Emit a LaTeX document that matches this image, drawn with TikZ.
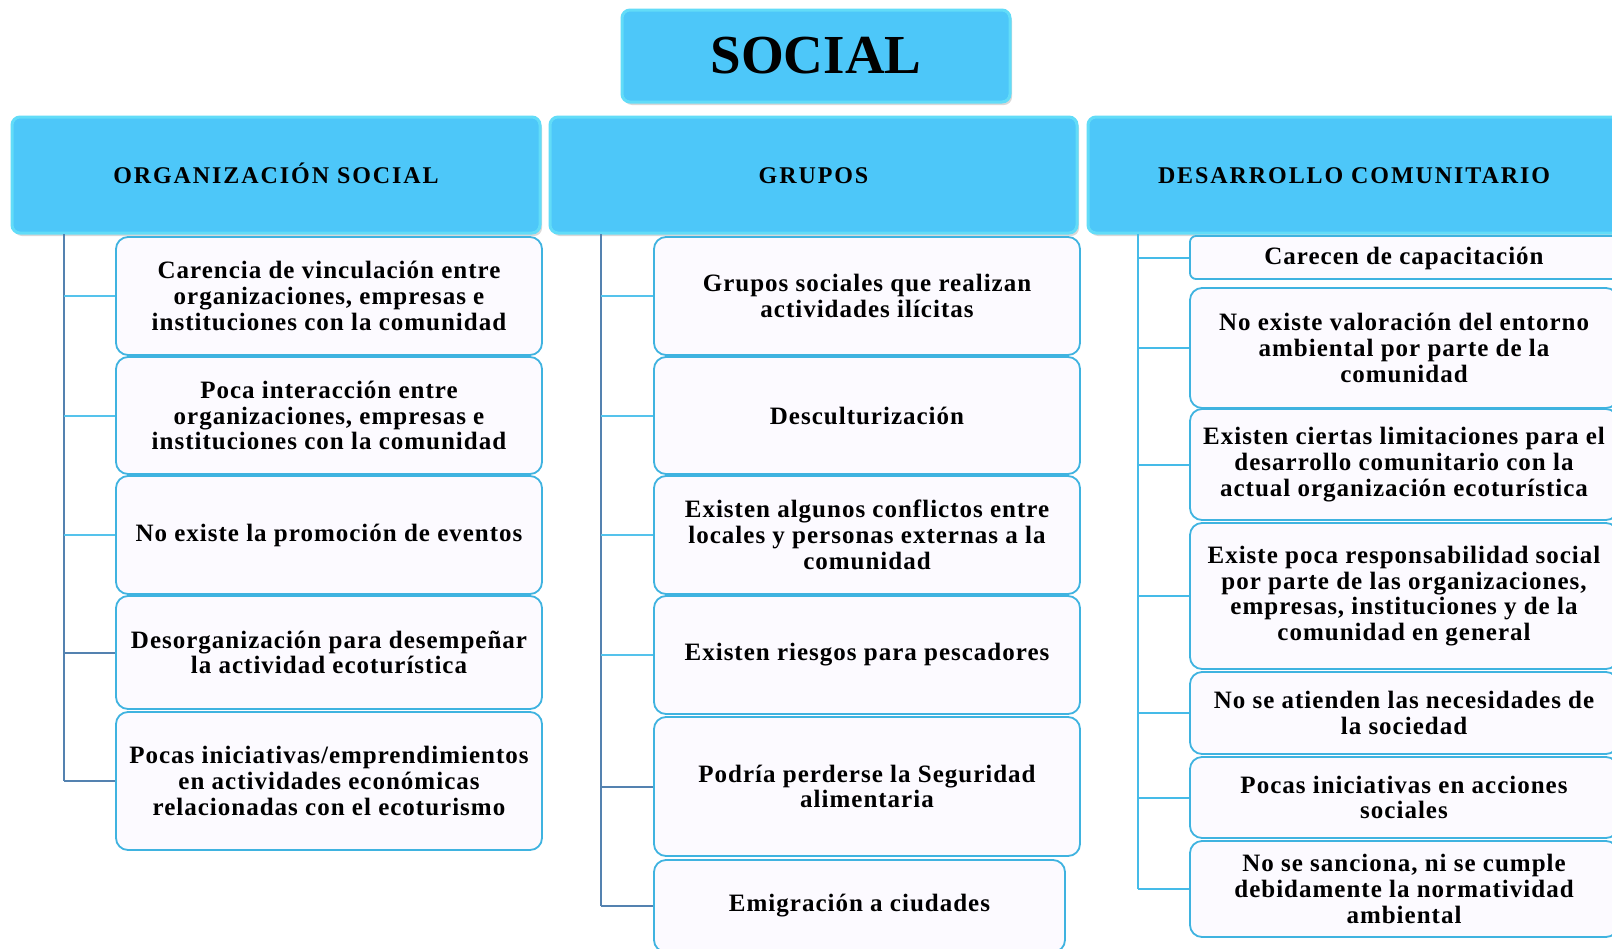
\documentclass[tikz,border=0pt]{standalone}
\usepackage{fontspec}
\setmainfont{Liberation Serif}
\newfontfamily\boxfont[LetterSpace=4]{Liberation Serif}
\newfontfamily\headfont[LetterSpace=8]{Liberation Serif}
\usetikzlibrary{shadows}
\definecolor{headfill}{HTML}{4DC7F9}
\definecolor{headedge}{HTML}{62DCF8}
\definecolor{boxfill}{HTML}{FCFAFF}
\definecolor{boxedge}{HTML}{3FB3E0}
\definecolor{trunkc}{HTML}{5482B0}
\definecolor{twigc}{HTML}{55C3EC}
\definecolor{cyanline}{HTML}{45BBE8}
\tikzset{
  head/.style={draw=headedge, line width=1.5pt, fill=headfill, rounded corners=4pt, inner sep=0pt,
    drop shadow={shadow xshift=1pt, shadow yshift=-1.5pt, opacity=0.3}},
  headtext/.style={font=\headfont\bfseries\fontsize{12}{14}\selectfont, text height=8.2pt, text depth=0pt},
  item/.style={draw=boxedge, line width=0.9pt, fill=boxfill, rounded corners=6pt, align=center,
    inner sep=0pt, font=\boxfont\bfseries\fontsize{12.5}{12.9}\selectfont},
  trunkline/.style={draw=trunkc, line width=1pt},
  twigline/.style={draw=twigc, line width=1pt},
  cyanl/.style={draw=cyanline, line width=1pt},
}
\begin{document}
\begin{tikzpicture}[x=0.5pt,y=-0.5pt]
\clip (0,0) rectangle (1612,948);
\fill[white] (0,0) rectangle (1612,948);

% title
\node[head, minimum width=194pt, minimum height=46pt, font=\bfseries\fontsize{27.5}{30}\selectfont] (title) at (816,56) {SOCIAL};

% headers
\node[head, headtext, minimum width=264pt, minimum height=58pt] (h1) at (276,175) {ORGANIZACIÓN SOCIAL};
\node[head, headtext, minimum width=263.5pt, minimum height=58pt] (h2) at (813.5,175) {GRUPOS};
\node[head, headtext, minimum width=266pt, minimum height=58pt] (h3) at (1354,175) {DESARROLLO COMUNITARIO};

% column 1
\node[item, minimum width=213pt, minimum height=59pt] (a1) at (329,296) {Carencia de vinculación entre\\organizaciones, empresas e\\instituciones con la comunidad};
\node[item, minimum width=213pt, minimum height=58.5pt] (a2) at (329,415.5) {Poca interacción entre\\organizaciones, empresas e\\instituciones con la comunidad};
\node[item, minimum width=213pt, minimum height=59pt] (a3) at (329,535) {No existe la promoción de eventos};
\node[item, minimum width=213pt, minimum height=56.5pt] (a4) at (329,652.5) {Desorganización para desempeñar\\la actividad ecoturística};
\node[item, minimum width=213pt, minimum height=69pt] (a5) at (329,781) {Pocas iniciativas/emprendimientos\\en actividades económicas\\relacionadas con el ecoturismo};

% column 2
\node[item, minimum width=213pt, minimum height=59pt] (b1) at (867,296) {Grupos sociales que realizan\\actividades ilícitas};
\node[item, minimum width=213pt, minimum height=58.5pt] (b2) at (867,415.5) {Desculturización};
\node[item, minimum width=213pt, minimum height=59pt] (b3) at (867,535) {Existen algunos conflictos entre\\locales y personas externas a la\\comunidad};
\node[item, minimum width=213pt, minimum height=59pt] (b4) at (867,655) {Existen riesgos para pescadores};
\node[item, minimum width=213pt, minimum height=69.5pt] (b5) at (867,786.5) {Podría perderse la Seguridad\\alimentaria};
\node[item, minimum width=205.5pt, minimum height=46pt] (b6) at (859.5,906) {Emigración a ciudades};

% column 3
\node[item, minimum width=214pt, minimum height=21.5pt, rounded corners=3pt, text height=8.5pt, text depth=2pt] (c1) at (1404,257.5) {Carecen de capacitación};
\node[item, minimum width=214pt, minimum height=60pt] (c2) at (1404,348) {No existe valoración del entorno\\ambiental por parte de la\\comunidad};
\node[item, minimum width=214pt, minimum height=55.5pt] (c3) at (1404,464.5) {Existen ciertas limitaciones para el\\desarrollo comunitario con la\\actual organización ecoturística};
\node[item, minimum width=214pt, minimum height=73pt] (c4) at (1404,596) {Existe poca responsabilidad social\\por parte de las organizaciones,\\empresas, instituciones y de la\\comunidad en general};
\node[item, minimum width=214pt, minimum height=41pt] (c5) at (1404,713) {No se atienden las necesidades de\\la sociedad};
\node[item, minimum width=214pt, minimum height=40.5pt] (c6) at (1404,797.5) {Pocas iniciativas en acciones\\sociales};
\node[item, minimum width=214pt, minimum height=48pt] (c7) at (1404,889) {No se sanciona, ni se cumple\\debidamente la normatividad\\ambiental};

% trunks
\coordinate (t1) at (64,234);
\coordinate (t2) at (601,234);
\coordinate (t3) at (1138,234);

\draw[trunkline] (t1) -- (t1 |- a5.west);
\draw[twigline] (t1 |- a1.west) -- (a1.west);
\draw[twigline] (t1 |- a2.west) -- (a2.west);
\draw[twigline] (t1 |- a3.west) -- (a3.west);
\draw[trunkline] (t1 |- a4.west) -- (a4.west);
\draw[trunkline] (t1 |- a5.west) -- (a5.west);

\draw[trunkline] (t2) -- (t2 |- b6.west);
\draw[twigline] (t2 |- b1.west) -- (b1.west);
\draw[twigline] (t2 |- b2.west) -- (b2.west);
\draw[twigline] (t2 |- b3.west) -- (b3.west);
\draw[twigline] (t2 |- b4.west) -- (b4.west);
\draw[trunkline] (t2 |- b5.west) -- (b5.west);
\draw[trunkline] (t2 |- b6.west) -- (b6.west);

\draw[cyanl] (t3) -- (t3 |- c7.west);
\foreach \n in {c1,c2,c3,c4,c5,c6,c7}{
  \draw[cyanl] (t3 |- \n.west) -- (\n.west);
}
\end{tikzpicture}
\end{document}
